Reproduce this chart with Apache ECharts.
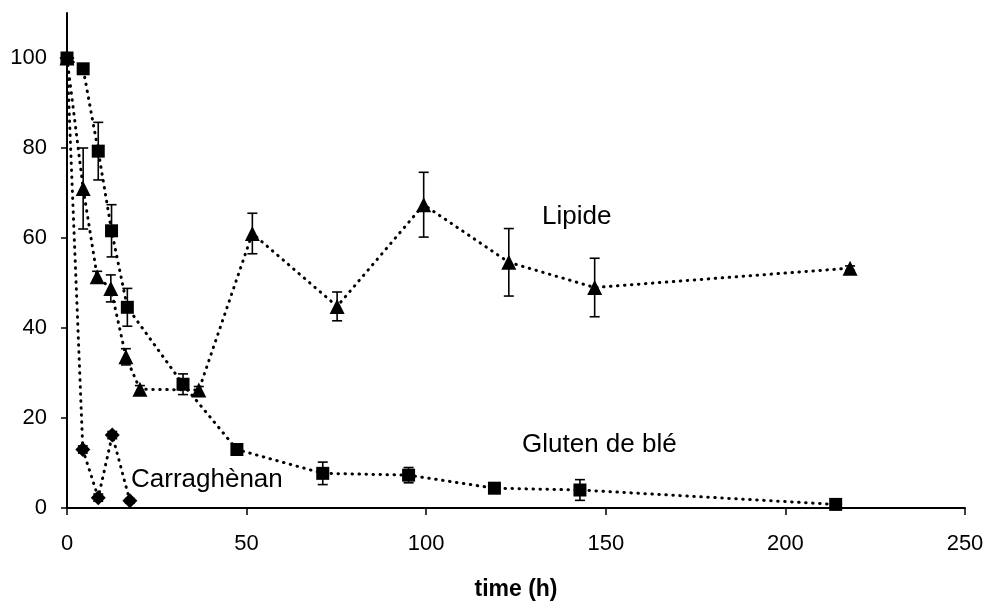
<!DOCTYPE html>
<html>
<head>
    <meta charset="utf-8">
    <title>time (h)</title>
    <script src="https://cdn.jsdelivr.net/npm/echarts@6/dist/echarts.min.js"></script>
    <style>
        html, body { margin: 0; padding: 0; background: #ffffff; }
        #chart { width: 987px; height: 607px; }
    </style>
</head>
<body>
<div id="chart"></div>
<script>
    // valeurs
    var lipideTime = [0, 4.5, 8.4, 12.2, 16.4, 20.3, 36.7, 51.6, 75.2, 99.3, 123, 146.9, 218];
    var lipideVal = [100, 71, 51.4, 48.8, 33.6, 26.4, 26.2, 61, 44.8, 67.4, 54.6, 49, 53.3];
    var lipideErr = [0, 9, 1.2, 3, 1.8, 0.8, 0.8, 4.5, 3.2, 7.2, 7.5, 6.5, 0.5];

    var glutenTime = [0, 4.5, 8.7, 12.4, 16.8, 32.3, 47.3, 71.2, 95.1, 119, 142.8, 214];
    var glutenVal = [100, 97.6, 79.3, 61.6, 44.6, 27.5, 13, 7.7, 7.3, 4.4, 4, 0.8];
    var glutenErr = [0, 0.5, 6.4, 5.8, 4.2, 2.3, 0.5, 2.5, 1.7, 0.5, 2.3, 0.3];

    var carraTime = [0, 4.4, 8.7, 12.6, 17.5];
    var carraVal = [100, 13, 2.3, 16.2, 1.6];
    var carraErr = [0, 0.8, 0.8, 0.8, 0.5];

    var yTicks = [0, 20, 40, 60, 80, 100];

    function pts(t, v, e) {
        var out = [];
        for (var i = 0; i < t.length; i++) out.push([t[i], v[i], e[i]]);
        return out;
    }

    var lipide = pts(lipideTime, lipideVal, lipideErr);
    var gluten = pts(glutenTime, glutenVal, glutenErr);
    var carra = pts(carraTime, carraVal, carraErr);

    var chart = echarts.init(document.getElementById('chart'), null, {renderer: 'canvas'});

    // barres d'erreur (trait vertical + deux petits chapeaux)
    function errorBars(params, api) {
        var x = api.value(0), y = api.value(1), e = api.value(2);
        var top = api.coord([x, y + e]);
        var bot = api.coord([x, y - e]);
        var w = 5;
        var st = {stroke: '#000', lineWidth: 1.6};
        return {
            type: 'group',
            children: [
                {type: 'line', shape: {x1: top[0], y1: top[1], x2: bot[0], y2: bot[1]}, style: st},
                {type: 'line', shape: {x1: top[0] - w, y1: top[1], x2: top[0] + w, y2: top[1]}, style: st},
                {type: 'line', shape: {x1: bot[0] - w, y1: bot[1], x2: bot[0] + w, y2: bot[1]}, style: st}
            ]
        };
    }

    var dotted = {color: '#000', width: 3, type: [0.5, 6.5], cap: 'round'};

    function lineSerie(name, data, symbol, size) {
        return {
            name: name,
            type: 'line',
            data: data,
            symbol: symbol,
            symbolSize: size,
            itemStyle: {color: '#000'},
            lineStyle: dotted,
            animation: false,
            z: 3
        };
    }

    function errSerie(data) {
        return {
            type: 'custom',
            data: data,
            renderItem: errorBars,
            encode: {x: 0, y: 1},
            animation: false,
            silent: true,
            z: 4
        };
    }

    var option = {
        backgroundColor: '#ffffff',
        textStyle: {fontFamily: 'Liberation Sans, Arial, sans-serif'},
        grid: {left: 67, right: 22, top: 13, bottom: 99, containLabel: false},
        xAxis: {
            type: 'value',
            min: 0,
            max: 250,
            interval: 50,
            name: 'time (h)',
            nameLocation: 'middle',
            nameGap: 70,
            nameTextStyle: {fontSize: 23, fontWeight: 'bold', color: '#000', fontFamily: 'Liberation Sans'},
            axisLine: {lineStyle: {color: '#000', width: 2}},
            axisTick: {show: true, length: 7, inside: false, lineStyle: {color: '#000', width: 1.5}},
            axisLabel: {fontSize: 22, color: '#000', margin: 25, fontFamily: 'Liberation Sans'},
            splitLine: {show: false}
        },
        yAxis: {
            type: 'value',
            min: 0,
            max: 110,
            interval: 20,
            axisLine: {show: true, lineStyle: {color: '#000', width: 2}},
            axisTick: {show: true, length: 6, inside: false, customValues: yTicks, lineStyle: {color: '#000', width: 1.5}},
            axisLabel: {fontSize: 22, color: '#000', margin: 20, customValues: yTicks, fontFamily: 'Liberation Sans'},
            splitLine: {show: false}
        },
        graphic: [
            {type: 'text', left: 542, top: 204, style: {text: 'Lipide', fontSize: 26, fill: '#000', fontFamily: 'Liberation Sans'}},
            {type: 'text', left: 522, top: 432, style: {text: 'Gluten de blé', fontSize: 26, fill: '#000', fontFamily: 'Liberation Sans'}},
            {type: 'text', left: 131, top: 467, style: {text: 'Carraghènan', fontSize: 26, fill: '#000', fontFamily: 'Liberation Sans'}}
        ],
        series: [
            lineSerie('Carraghènan', carra, 'diamond', 15),
            lineSerie('Gluten de blé', gluten, 'rect', 13),
            lineSerie('Lipide', lipide, 'triangle', 15),
            errSerie(carra),
            errSerie(gluten),
            errSerie(lipide)
        ]
    };

    chart.setOption(option);
</script>
</body>
</html>
